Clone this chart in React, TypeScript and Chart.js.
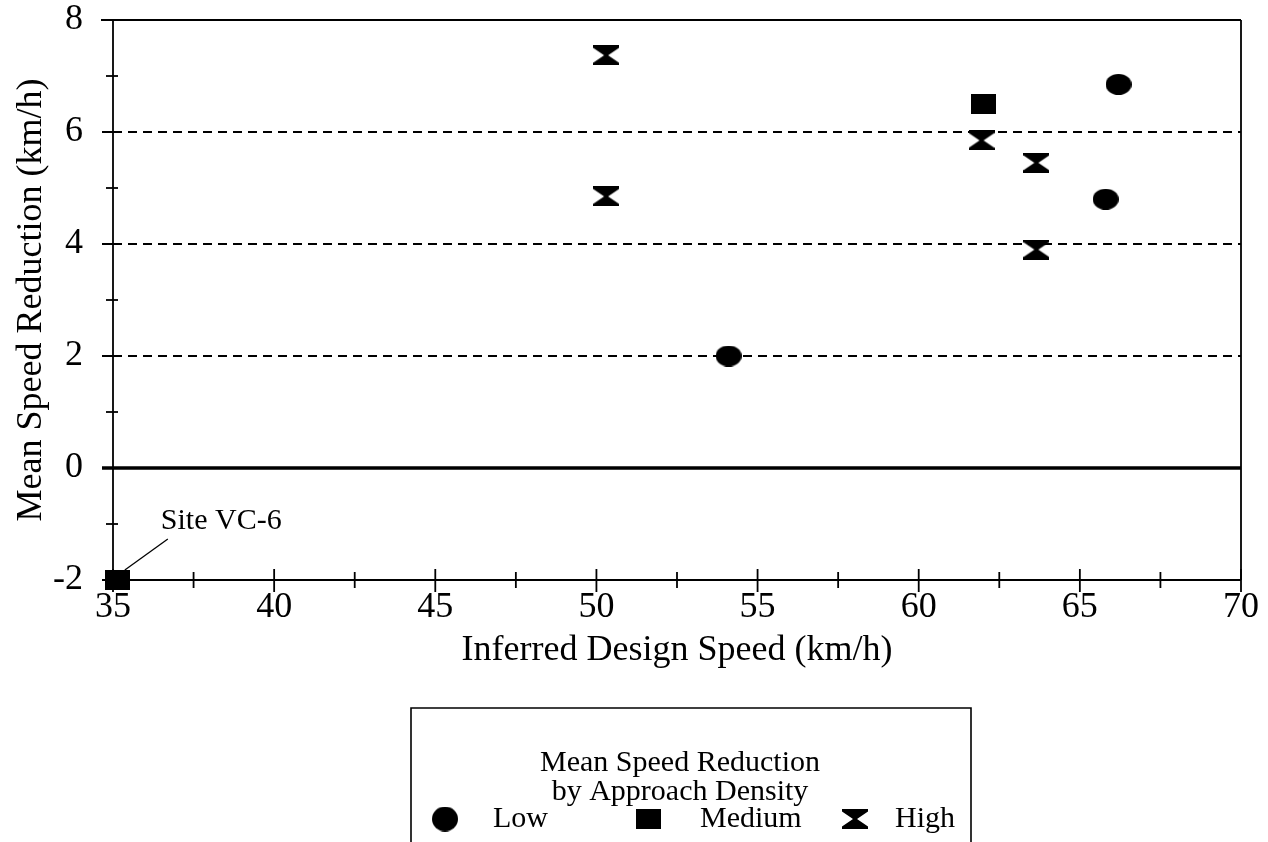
import { useEffect, useRef } from "react";
import { Chart, registerables } from "chart.js";

Chart.register(...registerables);

// ---- data ----
const seriesNames = ["Low", "Medium", "High"];
const lowX = [54.1, 65.8, 66.2];
const lowY = [2.0, 4.8, 6.85];
const mediumX = [35.15, 62.0];
const mediumY = [-2.0, 6.5];
const highX = [50.3, 50.3, 61.95, 63.65, 63.65];
const highY = [7.37, 4.85, 5.85, 5.45, 3.9];
const xMin = 35;
const xMax = 70;
const xStep = 2.5;
const xLabelEvery = 5;
const yMin = -2;
const yMax = 8;
const yStep = 1;
const yLabelEvery = 2;
const dashedGridValues = [2, 4, 6];
const zeroLineValue = 0;
const xTitle = "Inferred Design Speed (km/h)";
const yTitle = "Mean Speed Reduction (km/h)";
const legendTitle = ["Mean Speed Reduction", "by Approach Density"];
const annotationText = "Site VC-6";

const FONT = "'Liberation Serif', 'Times New Roman', Times, serif";

function makeMarker(kind: string): HTMLCanvasElement {
  const c = document.createElement("canvas");
  const ctx = c.getContext("2d")!;
  ctx.fillStyle = "#000";
  if (kind === "circle") {
    c.width = 26;
    c.height = 21;
    ctx.beginPath();
    ctx.ellipse(13, 10.5, 13, 10.5, 0, 0, Math.PI * 2);
    ctx.fill();
  } else if (kind === "legendCircle") {
    c.width = 26;
    c.height = 25;
    ctx.beginPath();
    ctx.ellipse(13, 12.5, 13, 12.5, 0, 0, Math.PI * 2);
    ctx.fill();
  } else if (kind === "square") {
    c.width = 25;
    c.height = 20;
    ctx.fillRect(0, 0, 25, 20);
  } else {
    c.width = 26;
    c.height = 20;
    ctx.beginPath();
    ctx.moveTo(0, 0);
    ctx.lineTo(26, 0);
    ctx.lineTo(26, 2.5);
    ctx.lineTo(15, 10);
    ctx.lineTo(26, 17.5);
    ctx.lineTo(26, 20);
    ctx.lineTo(0, 20);
    ctx.lineTo(0, 17.5);
    ctx.lineTo(11, 10);
    ctx.lineTo(0, 2.5);
    ctx.closePath();
    ctx.fill();
  }
  return c;
}

export default function App() {
  const ref = useRef<HTMLCanvasElement>(null);

  useEffect(() => {
    const markers = [makeMarker("circle"), makeMarker("square"), makeMarker("hourglass")];
    const legendMarkers = [makeMarker("legendCircle"), markers[1], markers[2]];
    const xs = [lowX, mediumX, highX];
    const ys = [lowY, mediumY, highY];

    const axesPlugin = {
      id: "axesPlugin",
      beforeDatasetsDraw(chart: any) {
        const { ctx, chartArea } = chart;
        const { left, right, top, bottom } = chartArea;
        const xs_ = chart.scales.x;
        const ys_ = chart.scales.y;
        ctx.save();
        ctx.strokeStyle = "#000";
        ctx.lineCap = "butt";
        // dashed grid lines
        dashedGridValues.forEach((v) => {
          const y = ys_.getPixelForValue(v);
          ctx.lineWidth = 2;
          ctx.setLineDash([]);
          ctx.beginPath();
          ctx.moveTo(left - 11, y);
          ctx.lineTo(left, y);
          ctx.stroke();
          ctx.setLineDash([9, 6]);
          ctx.beginPath();
          ctx.moveTo(left, y);
          ctx.lineTo(right, y);
          ctx.stroke();
        });
        ctx.setLineDash([]);
        // zero line
        const y0 = ys_.getPixelForValue(zeroLineValue);
        ctx.lineWidth = 3.5;
        ctx.beginPath();
        ctx.moveTo(left - 11, y0);
        ctx.lineTo(right, y0);
        ctx.stroke();
        // frame
        ctx.lineWidth = 1.8;
        ctx.beginPath();
        ctx.moveTo(left - 12, top);
        ctx.lineTo(right, top);
        ctx.moveTo(right, top);
        ctx.lineTo(right, bottom);
        ctx.moveTo(left, top);
        ctx.lineTo(left, bottom + 6);
        ctx.moveTo(left - 11, bottom);
        ctx.lineTo(right, bottom);
        ctx.stroke();
        // y minor ticks
        ys_.ticks.forEach((t: any) => {
          const v = t.value;
          if (Math.abs(v / yLabelEvery - Math.round(v / yLabelEvery)) > 1e-6) {
            const y = ys_.getPixelForValue(v);
            ctx.beginPath();
            ctx.moveTo(left - 7, y);
            ctx.lineTo(left + 5, y);
            ctx.stroke();
          }
        });
        // x ticks
        xs_.ticks.forEach((t: any) => {
          const v = t.value;
          const x = xs_.getPixelForValue(v);
          const major = Math.abs(v / xLabelEvery - Math.round(v / xLabelEvery)) < 1e-6;
          ctx.beginPath();
          if (major) {
            ctx.moveTo(x, bottom - 11);
            ctx.lineTo(x, bottom + 12);
          } else {
            ctx.moveTo(x, bottom - 8);
            ctx.lineTo(x, bottom + 8);
          }
          ctx.stroke();
        });
        ctx.restore();
      },
      afterDatasetsDraw(chart: any) {
        const { ctx } = chart;
        const px = chart.scales.x.getPixelForValue(mediumX[0]);
        const py = chart.scales.y.getPixelForValue(mediumY[0]);
        ctx.save();
        ctx.strokeStyle = "#000";
        ctx.lineWidth = 1.3;
        ctx.beginPath();
        ctx.moveTo(px + 50, py - 41);
        ctx.lineTo(px + 7, py - 10);
        ctx.stroke();
        ctx.fillStyle = "#000";
        ctx.font = `30px ${FONT}`;
        ctx.textAlign = "left";
        ctx.textBaseline = "middle";
        ctx.fillText(annotationText, px + 43, py - 59);
        ctx.restore();
      },
      afterDraw(chart: any) {
        const { ctx, chartArea } = chart;
        const boxL = chartArea.left + 298;
        const boxR = chartArea.left + 858;
        const boxT = chartArea.bottom + 128;
        const boxB = chart.height + 2;
        ctx.save();
        ctx.strokeStyle = "#000";
        ctx.lineWidth = 1.6;
        ctx.beginPath();
        ctx.moveTo(boxL, boxB);
        ctx.lineTo(boxL, boxT);
        ctx.lineTo(boxR, boxT);
        ctx.lineTo(boxR, boxB);
        ctx.stroke();
        ctx.fillStyle = "#000";
        ctx.font = `30px ${FONT}`;
        ctx.textAlign = "center";
        ctx.textBaseline = "middle";
        const cx = boxL + 269;
        legendTitle.forEach((line, i) => {
          ctx.fillText(line, cx, boxT + 55 + i * 29);
        });
        const itemY = boxT + 111;
        const markerX = [boxL + 34, boxL + 237, boxL + 444];
        const textX = [boxL + 82, boxL + 289, boxL + 484];
        ctx.textAlign = "left";
        seriesNames.forEach((name, i) => {
          const m = legendMarkers[i];
          ctx.drawImage(m, markerX[i] - m.width / 2, itemY - m.height / 2);
          ctx.fillText(name, textX[i], itemY);
        });
        ctx.restore();
      },
    };

    const chart = new Chart(ref.current!, {
      type: "scatter",
      data: {
        datasets: seriesNames.map((name, i) => ({
          label: name,
          data: xs[i].map((x, j) => ({ x, y: ys[i][j] })),
          pointStyle: markers[i] as any,
          pointRadius: 13,
          backgroundColor: "#000",
          borderColor: "#000",
          clip: false as any,
        })),
      },
      options: {
        responsive: false,
        devicePixelRatio: 1,
        animation: false,
        events: [],
        layout: { padding: { left: 0, top: 20, right: 27, bottom: 142 } },
        plugins: { legend: { display: false }, tooltip: { enabled: false } },
        scales: {
          x: {
            type: "linear",
            min: xMin,
            max: xMax,
            grid: { display: false, drawTicks: false },
            border: { display: false },
            afterFit: (s: any) => {
              s.height = 120;
              s.paddingLeft = 0;
              s.paddingRight = 0;
            },
            ticks: {
              stepSize: xStep,
              autoSkip: false,
              maxRotation: 0,
              padding: 6,
              color: "#000",
              font: { family: FONT, size: 36 },
              callback: (v: any) =>
                Math.abs(v / xLabelEvery - Math.round(v / xLabelEvery)) < 1e-6 ? String(v) : "",
            },
            title: {
              display: true,
              text: xTitle,
              color: "#000",
              font: { family: FONT, size: 36 },
              padding: { top: 0, bottom: 28 },
            },
          },
          y: {
            type: "linear",
            min: yMin,
            max: yMax,
            grid: { display: false, drawTicks: false },
            border: { display: false },
            afterFit: (s: any) => {
              s.width = 113;
              s.paddingTop = 0;
              s.paddingBottom = 0;
            },
            ticks: {
              stepSize: yStep,
              autoSkip: false,
              padding: 30,
              color: "#000",
              font: { family: FONT, size: 36 },
              callback: (v: any) =>
                Math.abs(v / yLabelEvery - Math.round(v / yLabelEvery)) < 1e-6 ? String(v) : "",
            },
            title: {
              display: true,
              text: yTitle,
              color: "#000",
              font: { family: FONT, size: 36 },
              padding: { top: 10, bottom: 0 },
            },
          },
        },
      },
      plugins: [axesPlugin],
    });
    return () => chart.destroy();
  }, []);

  return (
    <div style={{ position: "absolute", left: 0, top: 0, width: 1268, height: 842, background: "#fff" }}>
      <canvas ref={ref} width={1268} height={842} style={{ width: 1268, height: 842, display: "block" }} />
    </div>
  );
}
